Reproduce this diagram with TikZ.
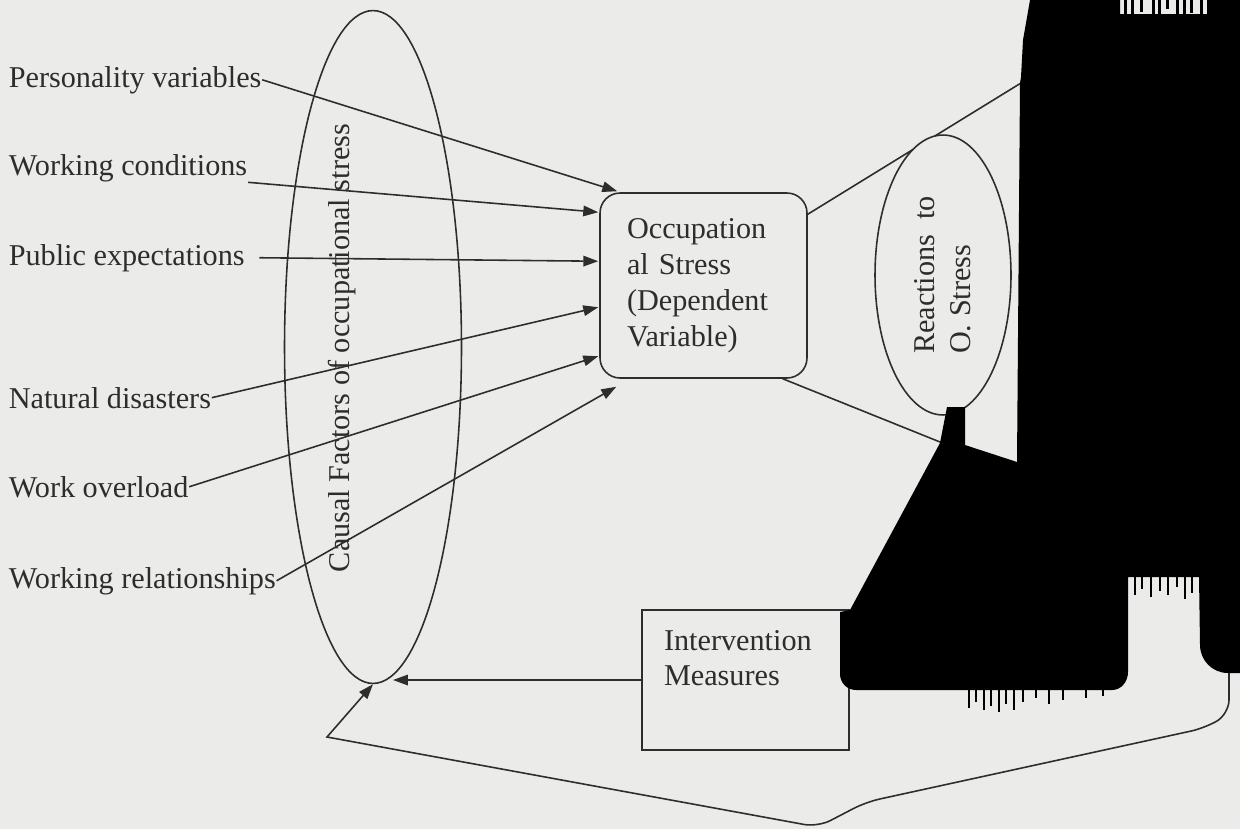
\documentclass[tikz,border=0pt]{standalone}
\usepackage{fontspec}
\setmainfont{Liberation Serif}
\usetikzlibrary{arrows.meta,shapes.geometric,calc}
\definecolor{paper}{RGB}{235,235,233}
\definecolor{ink}{RGB}{45,45,45}
\tikzset{
  arr/.style={-{Triangle[length=8.5pt,width=6pt]}},
  lbl/.style={anchor=base west, inner sep=0pt},
  bigoval/.style={draw, ellipse, inner sep=0pt, minimum width=3.54cm, minimum height=13.46cm},
  stressbox/.style={draw, rounded corners=0.4cm, text width=3.06cm, align=left,
    inner xsep=0.54cm, minimum height=3.7cm},
  reactoval/.style={draw, ellipse, fill=paper, rotate=90, align=left, inner sep=0pt,
    minimum width=5.6cm, minimum height=2.72cm},
  measbox/.style={draw, text width=3.26cm, align=left, inner xsep=0.44cm,
    inner ysep=0.4cm, text height=0.4cm, text depth=1.6cm}
}
\begin{document}
\begin{tikzpicture}[x=0.02cm,y=-0.02cm, line width=0.9pt, color=ink,
  font=\fontsize{17.2}{20.4}\selectfont]
\useasboundingbox (0,0) rectangle (1240,829);
\fill[paper] (0,0) rectangle (1240,829);

% causes
\node[lbl] (pv) at (8,87) {Personality variables};
\node[lbl] (wc) at (8,175) {Working conditions};
\node[lbl] (pe) at (8,265) {Public expectations};
\node[lbl] (nd) at (8,408) {Natural disasters};
\node[lbl] (wo) at (8,497) {Work overload};
\node[lbl] (wr) at (8,588) {Working relationships};

\node[bigoval] (cf) at (373,347) {};
\node[rotate=90] (cft) at (342,348) {Causal Factors of occupational stress};

\node[stressbox] (os) at (703.5,285.5) {Occupation\\al Stress\\(Dependent\\Variable)};
\node[measbox] (im) at (745.5,680) {Intervention\\Measures};

\coordinate (t1) at (1021,83);
\coordinate (b1) at (945,444);
\coordinate (fb) at (1229,673);

\draw[arr] (pv.east) -- ($(os.north west)+(18,-1)$);
\draw[arr] (wc.south east) -- ($(os.north west)+(-1,20)$);
\draw[arr] ($(pe.east)+(14,0)$) -- ($(os.north west)+(-1,69)$);
\draw[arr] (nd.east) -- ($(os.north west)+(-1,115)$);
\draw[arr] (wo.east) -- ($(os.north west)+(-1,164)$);
\draw[arr] (wr.east) -- ($(os.south west)+(17,8)$);

% reactions
\draw ($(os.north east)+(0,22)$) -- (t1);
\draw ($(os.south east)+(-25,0)$) -- (b1);
\node[reactoval] (rs) at (943,275) {Reactions~~to\\O. Stress};

% feedback
\draw[arr, shorten >=0.4cm] (im.west) -- (im.west -| cf.south);
\draw[arr] (fb) [rounded corners=8pt] -- (1229,714) -- (1205,728) -- (866,802) -- (818,827)
  [sharp corners] -- (327,737) -- (cf.south);

% blacked-out parts
\fill[black] (1030,0) -- (1120,0) -- (1120,14) -- (1207,14) -- (1207,0) -- (1240,0)
  -- (1240,673) -- (1228,673) to[out=180,in=-90] (1200,645) -- (1199,577) -- (1128,577)
  -- (1128,672) to[out=-90,in=0] (1112,690) -- (856,690) to[out=180,in=-90] (840,674)
  -- (840,612) -- (850,610) -- (940,443) -- (947,407) -- (965,407) -- (965,445)
  -- (1017,462) -- (1020,83) -- (1021,77) -- (1023,40) -- cycle;
\foreach \x/\h in {1124/15,1131/15,1140/12,1152/15,1158/15,1166/9,1176/15,1183/15,1190/13,1200/15}
  \fill[black] (\x,0) rectangle ++(3,\h);
\foreach \x/\h in {1134/18,1141/12,1150/20,1159/14,1167/18,1176/10,1184/22,1191/16}
  \fill[black] (\x,577) rectangle ++(2,\h);
\foreach \x/\h in {968/18,975/12,983/20,990/16,998/22,1005/14,1013/20,1022/12,1035/8,1048/14,1062/10,1085/8,1102/6}
  \fill[black] (\x,690) rectangle ++(2,\h);
\end{tikzpicture}
\end{document}
